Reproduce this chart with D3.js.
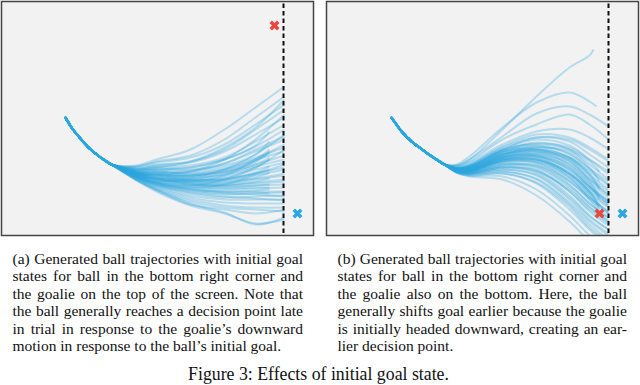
<!DOCTYPE html>
<html>
<head>
<meta charset="utf-8">
<script src="https://cdn.jsdelivr.net/npm/d3@7"></script>
<style>
  body { margin: 0; background: #fff; }
  svg { display: block; }
</style>
</head>
<body>
<script>
// field is a 312 x 234 screen, y grows downward
const FIELD_W = 312, FIELD_H = 234;

// shared start of every ball trajectory (x, y)
const stemA = [[64,116],[70,126],[78,136],[86,145],[94,152],[102,158],[110,163]];
const stationsA = [135, 155, 189, 223, 254];
// y at each station, then end y, end x
const branchesA = [
  [164,158,148,128,106,85,283], [165,160,154,138,116,95,283], [165,161,156,143,123,103,283],
  [166,163,160,148,128,108,283], [167,164,161,150,133,116,283], [167,165,164,156,140,123,283],
  [168,166,166,158,144,130,268], [168,167,168,162,148,135,283], [169,168,169,164,153,140,268],
  [169,169,171,166,156,146,283], [170,170,173,170,160,150,268], [170,171,174,171,163,154,283],
  [171,172,176,174,166,158,268], [171,173,177,176,168,161,283], [172,174,178,177,171,165,268],
  [172,175,179,179,174,168,283], [172,176,180,180,176,171,268], [173,177,181,182,178,174,283],
  [173,178,182,183,180,177,268], [174,179,183,184,182,180,283], [174,180,184,186,184,183,268],
  [175,181,186,188,187,186,283], [175,182,188,190,189,188,268], [176,183,190,193,192,191,283],
  [176,184,192,196,195,194,283], [177,185,194,198,198,198,283], [177,186,196,201,202,202,283],
  [178,187,198,204,206,206,283], [178,188,200,206,208,210,283], [179,189,203,208,212,208,283],
  [179,190,204,212,222,218,283], [178,188,202,211,223,216,283], [171,173,170,158,138,113,283],
  [168,166,160,146,126,98,283],  [172,176,176,168,153,133,283], [173,178,180,174,158,143,283],
  [175,181,184,178,166,148,283], [172,174,174,168,158,148,268], [175,182,186,183,173,163,283],
  [174,179,178,172,163,156,268], [170,170,172,168,158,150,283], [171,172,175,173,165,158,283],
  [172,174,178,178,172,166,283], [173,176,180,181,177,172,283], [173,177,182,184,181,178,283],
  [174,178,183,185,184,183,283], [175,180,185,187,186,186,268], [175,181,187,190,190,190,283],
  [176,183,189,192,193,195,283], [177,184,191,195,197,199,283], [171,171,170,162,150,138,283],
  [172,173,174,170,160,152,268], [174,177,179,178,172,168,268], [176,182,188,191,191,192,268],
  [169,168,166,158,145,128,283]
];

const stemB = [[65,116],[76,131],[85,140],[93,146],[101,152],[110,158],[118,163]];
const stationsB = [130, 143, 176, 210, 243, 263];
const branchesB = [
  [164,158,128,95,66,54,48,267],    [163,155,126,101,91,100,105,270], [164,158,135,112,105,113,125,282],
  [165,160,138,123,113,123,138,282], [165,161,143,130,128,136,148,282], [166,163,145,133,136,146,158,282],
  [166,163,146,136,140,153,166,282], [167,164,148,138,144,158,173,282], [167,165,150,141,148,163,178,282],
  [167,165,151,144,153,168,183,282], [167,166,153,146,156,173,188,282], [167,166,154,148,160,178,193,282],
  [168,167,155,150,163,181,196,282], [168,167,156,153,166,185,200,282], [168,168,158,155,170,188,203,282],
  [168,168,158,156,173,192,206,282], [169,169,160,158,176,195,210,282], [169,169,161,161,180,198,213,282],
  [169,170,162,163,183,202,216,282], [169,170,163,166,186,205,220,282], [170,171,165,168,190,210,224,282],
  [170,171,166,171,194,214,228,282], [170,172,168,174,198,218,232,282], [170,172,170,178,203,223,238,282],
  [170,173,172,182,208,228,244,282], [171,174,175,188,214,234,250,282], [171,175,178,194,220,240,256,282],
  [167,166,150,148,158,176,190,282], [168,168,154,150,158,174,188,273], [168,167,152,146,150,166,180,273],
  [169,169,156,152,164,183,198,273], [169,170,159,159,174,193,208,273], [167,164,148,143,148,160,170,273],
  [168,168,156,154,168,186,203,282], [169,170,160,160,176,196,211,282], [170,172,166,170,188,206,220,282],
  [167,166,153,148,156,170,184,282], [169,169,158,158,172,190,205,273], [170,171,164,164,180,198,212,273],
  [167,165,148,136,138,148,160,282], [167,165,150,145,152,167,180,282], [168,167,153,150,160,178,194,282],
  [168,168,156,154,166,184,199,282], [169,169,158,157,172,190,205,282], [169,170,160,161,178,196,211,282],
  [170,171,163,165,184,202,217,282], [170,172,166,169,190,208,222,282], [170,172,168,173,196,215,228,282],
  [171,173,170,177,201,220,234,282], [168,166,152,148,156,172,186,273], [169,168,155,152,162,180,195,273],
  [170,170,159,158,172,190,204,273], [167,165,149,142,146,158,170,282], [171,174,172,181,205,226,240,282],
  [169,169,157,155,168,186,201,282]
];

const goalLineX = 282;
const markersA = [{ x: 273, y: 24, who: "goalie" }, { x: 296, y: 212, who: "ball" }];
const markersB = [{ x: 273, y: 212, who: "goalie" }, { x: 296, y: 212, who: "ball" }];

const captionA = [
  "(a) Generated ball trajectories with initial goal",
  "states for ball in the bottom right corner and",
  "the goalie on the top of the screen. Note that",
  "the ball generally reaches a decision point late",
  "in trial in response to the goalie\u2019s downward",
  "motion in response to the ball\u2019s initial goal."
];
const captionB = [
  "(b) Generated ball trajectories with initial goal",
  "states for ball in the bottom right corner and",
  "the goalie also on the bottom. Here, the ball",
  "generally shifts goal earlier because the goalie",
  "is initially headed downward, creating an ear-",
  "lier decision point."
];
const figureCaption = "Figure 3: Effects of initial goal state.";

const blue = "#2ba7df", red = "#e8483f";
const serif = "'Liberation Serif', 'Times New Roman', serif";

const svg = d3.select("body").append("svg")
  .attr("width", 640)
  .attr("height", 385);

function panel(ox, stem, stations, branches, markers, id) {
  const x = d3.scaleLinear().domain([0, FIELD_W]).range([ox, ox + FIELD_W]);
  const y = d3.scaleLinear().domain([0, FIELD_H]).range([1.5, 1.5 + FIELD_H]);

  svg.append("rect")
    .attr("x", ox).attr("y", 1.5)
    .attr("width", FIELD_W).attr("height", FIELD_H)
    .attr("fill", "#f2f2f2");

  svg.append("clipPath").attr("id", id)
    .append("rect")
    .attr("x", ox).attr("y", 1.5)
    .attr("width", FIELD_W).attr("height", FIELD_H);

  const g = svg.append("g").attr("clip-path", `url(#${id})`);
  const line = d3.line()
    .x(d => x(d[0]))
    .y(d => y(d[1]))
    .curve(d3.curveCatmullRom.alpha(0.5));

  const n = stations.length;
  g.selectAll("path.traj")
    .data(branches)
    .join("path")
    .attr("class", "traj")
    .attr("d", row => line(stem.concat(stations.map((sx, i) => [sx, row[i]]), [[row[n + 1], row[n]]])))
    .attr("fill", "none")
    .attr("stroke", blue)
    .attr("stroke-opacity", 0.3)
    .attr("stroke-width", 2);

  g.append("path")
    .attr("d", line(stem))
    .attr("fill", "none")
    .attr("stroke", blue)
    .attr("stroke-width", 2.8)
    .attr("stroke-linecap", "round");

  g.append("line")
    .attr("x1", x(goalLineX)).attr("x2", x(goalLineX))
    .attr("y1", y(0) + 2).attr("y2", y(FIELD_H))
    .attr("stroke", "#111")
    .attr("stroke-width", 2)
    .attr("stroke-dasharray", "4.5,3");

  const cross = d3.symbol().type(d3.symbolCross).size(62);
  g.selectAll("path.mark")
    .data(markers)
    .join("path")
    .attr("class", "mark")
    .attr("d", cross)
    .attr("transform", d => `translate(${x(d.x)},${y(d.y)}) rotate(45)`)
    .attr("fill", d => d.who === "goalie" ? red : blue);

  svg.append("rect")
    .attr("x", ox).attr("y", 1.5)
    .attr("width", FIELD_W).attr("height", FIELD_H)
    .attr("fill", "none")
    .attr("stroke", "#444")
    .attr("stroke-width", 1.5);
}

panel(1.5, stemA, stationsA, branchesA, markersA, "clipA");
panel(326.5, stemB, stationsB, branchesB, markersB, "clipB");

// justified caption blocks
function caption(lines, x0, width) {
  const g = svg.append("g")
    .attr("font-family", serif)
    .attr("font-size", 15.5)
    .attr("fill", "#111");
  lines.forEach((txt, i) => {
    const t = g.append("text")
      .attr("x", x0)
      .attr("y", 263.5 + i * 17.5)
      .text(txt);
    if (i < lines.length - 1) {
      const nat = t.node().getComputedTextLength();
      const gaps = txt.split(" ").length - 1;
      t.attr("word-spacing", (width - nat) / gaps);
    }
  });
}
caption(captionA, 12.5, 290.5);
caption(captionB, 337.5, 289.5);

svg.append("text")
  .attr("x", 318.5)
  .attr("y", 380)
  .attr("text-anchor", "middle")
  .attr("font-family", serif)
  .attr("font-size", 17.8)
  .attr("fill", "#111")
  .text(figureCaption);
</script>
</body>
</html>
